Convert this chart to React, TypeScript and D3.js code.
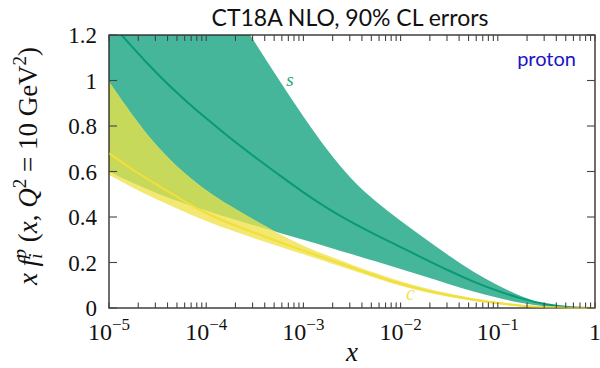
import React from "react";
import * as d3 from "d3";

// log10(x) sample grid shared by every curve
const xExp = [-5, -4.75, -4.5, -4.25, -4, -3.75, -3.5, -3.25, -3, -2.75, -2.5, -2.25, -2, -1.75, -1.5, -1.25, -1, -0.75, -0.5, -0.25, 0];

// strange quark: central value and 90% CL envelope
const sCentral = [1.265, 1.14, 1.027, 0.925, 0.833, 0.745, 0.663, 0.585, 0.507, 0.437, 0.375, 0.32, 0.268, 0.215, 0.163, 0.115, 0.074, 0.04, 0.014, 0.002, 0];
const sUpper = [2.05, 1.92, 1.78, 1.63, 1.48, 1.33, 1.17, 1.0, 0.84, 0.69, 0.56, 0.465, 0.383, 0.305, 0.228, 0.158, 0.098, 0.048, 0.013, 0, 0];
const sLower = [0.6, 0.548, 0.503, 0.463, 0.428, 0.394, 0.362, 0.331, 0.3, 0.268, 0.236, 0.204, 0.172, 0.138, 0.104, 0.072, 0.044, 0.021, 0.005, 0, 0];

// charm quark: central value and 90% CL envelope
const cCentral = [0.68, 0.605, 0.54, 0.475, 0.415, 0.37, 0.33, 0.29, 0.252, 0.215, 0.178, 0.14, 0.105, 0.078, 0.055, 0.036, 0.021, 0.009, 0.002, 0, 0];
const cUpper = [0.995, 0.84, 0.705, 0.6, 0.515, 0.447, 0.385, 0.325, 0.272, 0.23, 0.19, 0.152, 0.116, 0.087, 0.063, 0.042, 0.025, 0.011, 0.003, 0, 0];
const cLower = [0.585, 0.527, 0.475, 0.427, 0.382, 0.342, 0.305, 0.27, 0.236, 0.201, 0.166, 0.13, 0.096, 0.07, 0.048, 0.031, 0.017, 0.007, 0.001, 0, 0];

const yTickValues = [0, 0.2, 0.4, 0.6, 0.8, 1, 1.2];
const yTickLabels = ["0", "0.2", "0.4", "0.6", "0.8", "1", "1.2"];
const xDecades = [-5, -4, -3, -2, -1, 0];

const W = 600;
const H = 368;
const L = 109, R = 595, T = 35, B = 308;

const SERIF = "'Liberation Serif', 'DejaVu Serif', serif";
const SANS = "Lato, 'Open Sans', sans-serif";

export default function App() {
  const x = d3.scaleLog().domain([1e-5, 1]).range([L, R]);
  const y = d3.scaleLinear().domain([0, 1.2]).range([B, T]);
  const xs = xExp.map((e) => Math.pow(10, e));

  const band = (lo: number[], hi: number[]) =>
    d3
      .area<number>()
      .x((d) => x(d))
      .y0((_, i) => y(lo[i]))
      .y1((_, i) => y(hi[i]))
      .curve(d3.curveBasis)(xs) || "";

  const line = (vals: number[]) =>
    d3
      .line<number>()
      .x((d) => x(d))
      .y((_, i) => y(vals[i]))
      .curve(d3.curveBasis)(xs) || "";

  const sBand = band(sLower, sUpper);
  const cBand = band(cLower, cUpper);
  const cLine = line(cCentral);

  const xTicks = x.ticks();

  return (
    <svg
      width={W}
      height={H}
      viewBox={`0 0 ${W} ${H}`}
      style={{ position: "absolute", left: 0, top: 0, background: "#fff" }}
    >
      <defs>
        <clipPath id="plotArea">
          <rect x={L} y={T} width={R - L} height={B - T} />
        </clipPath>
        <clipPath id="plotAreaEdge">
          <rect x={L} y={T} width={R - L} height={B - T + 1.5} />
        </clipPath>
        <clipPath id="sBandClip">
          <path d={sBand} />
        </clipPath>
      </defs>

      <g clipPath="url(#plotArea)">
        <path d={sBand} fill="#45B69A" />
        <path d={cBand} fill="#F2E872" />
        <g clipPath="url(#sBandClip)">
          <path d={cBand} fill="#C6D95B" />
        </g>
        <path d={line(sCentral)} fill="none" stroke="#079A75" strokeWidth={2} />
        <path d={cLine} fill="none" stroke="#F2DF3C" strokeWidth={2} />
      </g>

      {/* frame */}
      <rect x={L} y={T} width={R - L} height={B - T} fill="none" stroke="#222" strokeWidth={1.3} />

      {/* charm curve running along the baseline at large x, over the frame */}
      <path
        d={cLine}
        fill="none"
        stroke="#F2DF3C"
        strokeWidth={2}
        strokeOpacity={0.55}
        clipPath="url(#plotAreaEdge)"
      />

      {/* log ticks on bottom and top */}
      {xTicks.map((t, i) => (
        <g key={"xt" + i} stroke="#444" strokeWidth={1.1}>
          <line x1={x(t)} x2={x(t)} y1={B} y2={B - 5.5} />
          <line x1={x(t)} x2={x(t)} y1={T} y2={T + 6} />
        </g>
      ))}

      {/* linear ticks on left and right */}
      {yTickValues.map((v, i) => (
        <g key={"yt" + i} stroke="#444" strokeWidth={1.1}>
          <line x1={L} x2={L + 8} y1={y(v)} y2={y(v)} />
          <line x1={R} x2={R - 8} y1={y(v)} y2={y(v)} />
        </g>
      ))}

      {/* y tick labels */}
      {yTickValues.map((v, i) => (
        <text
          key={"yl" + i}
          x={L - 12}
          y={y(v)}
          dy="0.35em"
          textAnchor="end"
          fontFamily={SERIF}
          fontSize={23}
          fill="#111"
        >
          {yTickLabels[i]}
        </text>
      ))}

      {/* x tick labels */}
      {xDecades.map((e) => (
        <text
          key={"xl" + e}
          x={x(Math.pow(10, e))}
          y={340}
          textAnchor="middle"
          fontFamily={SERIF}
          fontSize={24}
          fill="#111"
        >
          {e === 0 ? (
            "1"
          ) : (
            <>
              10
              <tspan fontSize={17} dy={-10}>
                {"\u2212" + Math.abs(e)}
              </tspan>
            </>
          )}
        </text>
      ))}

      {/* axis titles */}
      <text x={352} y={361} textAnchor="middle" fontFamily={SERIF} fontStyle="italic" fontSize={27} fill="#111">
        x
      </text>
      <text
        transform="translate(37,166) rotate(-90)"
        textAnchor="middle"
        fontFamily={SERIF}
        fontSize={27}
        fill="#111"
      >
        <tspan fontStyle="italic">x f</tspan>
        <tspan fontStyle="italic" fontSize={19} dy={5}>i</tspan>
        <tspan fontStyle="italic" fontSize={19} dx={-5} dy={-16}>p</tspan>
        <tspan dy={11}>{" ("}</tspan>
        <tspan fontStyle="italic">x</tspan>
        <tspan>{", "}</tspan>
        <tspan fontStyle="italic">Q</tspan>
        <tspan fontSize={19} dy={-11}>2</tspan>
        <tspan dy={11}>{" = 10 GeV"}</tspan>
        <tspan fontSize={19} dy={-11}>2</tspan>
        <tspan dy={11}>)</tspan>
      </text>

      {/* title */}
      <text x={350} y={26} textAnchor="middle" fontFamily={SANS} fontSize={23} fill="#111">
        CT18A NLO, 90% CL errors
      </text>

      {/* annotations */}
      <text x={576} y={66} textAnchor="end" fontFamily={SANS} fontSize={20} fill="#1A14C8">
        proton
      </text>
      <text x={290} y={86} textAnchor="middle" fontFamily={SERIF} fontStyle="italic" fontSize={19} fill="#22A882">
        s
      </text>
      <text x={410.5} y={300} textAnchor="middle" fontFamily={SERIF} fontStyle="italic" fontSize={20} fill="#F2E055">
        c
      </text>
    </svg>
  );
}
